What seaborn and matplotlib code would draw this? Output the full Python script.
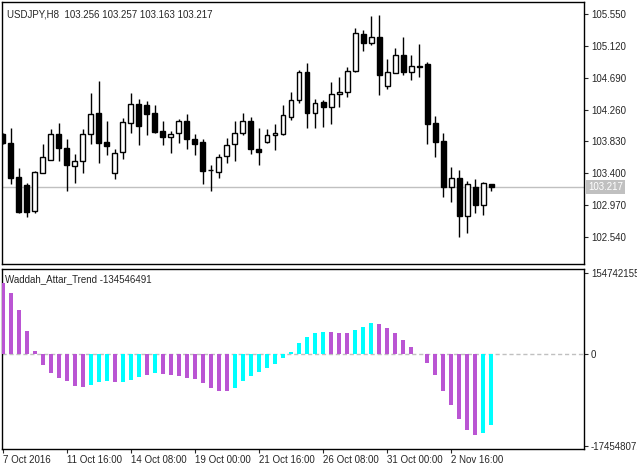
import matplotlib
matplotlib.use("Agg")
import matplotlib.pyplot as plt
import seaborn as sns
import numpy as np

# OHLC (USDJPY H8)
opens = [103.926, 103.804, 103.345, 103.242, 102.886, 103.408, 103.584, 103.926, 103.737, 103.498,
         103.561, 103.926, 104.209, 103.822, 103.399, 103.691, 104.083, 104.330, 104.322, 104.214,
         103.971, 103.885, 103.944, 104.101, 103.858, 103.822, 103.444, 103.422, 103.629, 103.790,
         103.939, 104.105, 103.728, 103.818, 103.912, 103.930, 104.164, 104.389, 104.767, 104.209,
         104.362, 104.299, 104.466, 104.493, 104.781, 105.280, 105.154, 105.235, 104.574, 104.749,
         104.992, 104.762, 104.843, 104.875, 104.074, 103.831, 103.219, 103.332, 102.828, 103.210,
         102.967, 103.256]
highs = [103.939, 104.007, 103.467, 103.273, 103.426, 103.795, 103.998, 104.074, 103.858, 103.660,
         103.998, 104.488, 104.650, 104.106, 103.723, 104.146, 104.484, 104.398, 104.380, 104.322,
         104.110, 103.975, 104.137, 104.200, 103.930, 103.858, 103.516, 103.660, 103.880, 104.106,
         104.214, 104.155, 104.011, 103.998, 104.065, 104.322, 104.497, 104.794, 104.893, 104.398,
         104.389, 104.636, 104.704, 104.839, 105.366, 105.334, 105.528, 105.541, 104.943, 105.091,
         105.244, 104.992, 105.140, 104.906, 104.173, 103.944, 103.489, 103.444, 103.296, 103.323,
         103.278, 103.257]
lows = [103.795, 103.251, 102.859, 102.805, 102.859, 103.399, 103.575, 103.570, 103.165, 103.273,
        103.408, 103.795, 103.543, 103.646, 103.327, 103.597, 103.939, 103.786, 103.921, 103.944,
        103.786, 103.678, 103.813, 103.732, 103.651, 103.251, 103.165, 103.340, 103.543, 103.570,
        103.912, 103.665, 103.516, 103.813, 103.719, 103.917, 104.119, 104.344, 104.015, 104.015,
        104.029, 104.060, 104.299, 104.434, 104.772, 105.055, 105.127, 104.457, 104.533, 104.749,
        104.726, 104.659, 104.704, 103.795, 103.624, 103.084, 103.016, 102.544, 102.589, 102.868,
        102.832, 103.163]
closes = [103.804, 103.340, 102.873, 102.882, 103.413, 103.615, 103.926, 103.737, 103.516, 103.561,
          103.926, 104.196, 103.813, 103.772, 103.669, 104.088, 104.330, 104.042, 104.205, 103.962,
          103.885, 103.935, 104.101, 103.867, 103.800, 103.435, 103.440, 103.615, 103.777, 103.939,
          104.101, 103.723, 103.691, 103.912, 103.939, 104.182, 104.389, 104.767, 104.218, 104.353,
          104.299, 104.466, 104.497, 104.781, 105.289, 105.154, 105.235, 104.731, 104.762, 104.992,
          104.762, 104.843, 104.834, 104.070, 103.826, 103.219, 103.332, 102.828, 103.255, 102.967,
          103.269, 103.217]

# Waddah Attar Trend histogram, millions
trend = [135, 116, 83, 44, 6.5, -21, -36, -46, -52, -60, -62, -58, -54, -52, -54, -54, -50, -44,
         -40, -36, -38, -40, -42, -46, -48, -56, -64, -70, -70, -64, -52, -42, -34, -27, -19, -8,
         4.5, 20, 32, 40, 42, 42, 40, 40, 46, 51, 59, 57, 49, 40, 26, 14, 0, -17, -40, -70, -97,
         -124, -144, -153, -151, -134.5]
trend_up = [0, 0, 0, 0, 0, 0, 0, 0, 0, 0, 0, 1, 1, 1, 0, 1, 1, 1, 0, 1, 0, 0, 0, 0, 0, 0, 0, 0,
            0, 1, 1, 1, 1, 1, 1, 1, 1, 1, 1, 1, 1, 0, 0, 0, 1, 1, 1, 0, 0, 0, 0, 0, 0, 0, 0, 0, 0,
            0, 0, 0, 1, 1]

price_ticks = [105.550, 105.120, 104.690, 104.260, 103.830, 103.400, 102.970, 102.540]
date_ticks = [0, 8, 16, 24, 32, 40, 48, 56]
date_labels = ["7 Oct 2016", "11 Oct 16:00", "14 Oct 08:00", "19 Oct 00:00",
               "21 Oct 16:00", "26 Oct 08:00", "31 Oct 00:00", "2 Nov 16:00"]

sns.set_style("white")
plt.rcParams['font.family'] = ['Liberation Sans', 'DejaVu Sans']
FS = 7

W, H = 637, 469
fig = plt.figure(figsize=(W / 100, H / 100), dpi=100)
ax1 = fig.add_axes([2 / W, 1 - 264 / H, 582 / W, 262 / H])
ax2 = fig.add_axes([2 / W, 1 - 449 / H, 582 / W, 180 / H])

idx = np.arange(len(opens))
o, h, l, c = map(np.array, (opens, highs, lows, closes))
up = c >= o
ax1.vlines(idx, l, h, color="black", lw=1, zorder=2)
bottoms = np.minimum(o, c)
heights = np.maximum(np.abs(c - o), 0.004)
ax1.bar(idx, heights, bottom=bottoms, width=0.62,
        color=np.where(up, "white", "black"), edgecolor="black", lw=1, zorder=3)
ax1.axhline(103.217, color="#c0c0c0", lw=1, zorder=1)
ax1.set_xlim(-0.1, 72.6)
ax1.set_ylim(102.176, 105.712)
ax1.yaxis.tick_right()
ax1.set_yticks(price_ticks)
ax1.set_yticklabels([f"{p:.3f}" for p in price_ticks])
ax1.tick_params(axis="y", labelsize=FS, length=3, direction="out", right=True, pad=2)
ax1.set_xticks([])
ax1.text(5 / 582, 1 - 7 / 262, "USDJPY,H8  103.256 103.257 103.163 103.217", transform=ax1.transAxes,
         fontsize=FS, va="top", ha="left")
ax1.text(1.007, 103.217, "103.217", transform=ax1.get_yaxis_transform(), fontsize=FS, color="white",
         va="center", ha="left", bbox=dict(boxstyle="square,pad=0.2", fc="#c0c0c0", ec="none"))

colors = ["#00FFFF" if u else "#BA55D3" for u in trend_up]
sns.barplot(x=idx, y=trend, hue=idx, palette=colors, native_scale=True, legend=False,
            width=0.5, ax=ax2, saturation=1, zorder=3, linewidth=0)
ax2.axhline(0, color="#c0c0c0", lw=1, ls=(0, (3, 2)), zorder=1)
ax2.set_xlim(-0.1, 72.6)
ax2.set_ylim(-180.5, 161.5)
ax2.yaxis.tick_right()
ax2.set_yticks([154.742155, 0, -174.548071])
ax2.set_yticklabels(["154742155", "0", "-174548071"])
ax2.tick_params(axis="y", labelsize=FS, length=3, direction="out", right=True, pad=2)
ax2.set_xticks(date_ticks)
ax2.set_xticklabels(date_labels, ha="left")
ax2.tick_params(axis="x", labelsize=FS, length=3, direction="out", bottom=True, pad=1)
ax2.text(3 / 582, 1 - 5 / 180, "Waddah_Attar_Trend -134546491", transform=ax2.transAxes,
         fontsize=FS, va="top", ha="left")

for ax in (ax1, ax2):
    for s in ax.spines.values():
        s.set_color("black")
        s.set_linewidth(1)

fig.savefig("out.png", dpi=100, facecolor="white")
